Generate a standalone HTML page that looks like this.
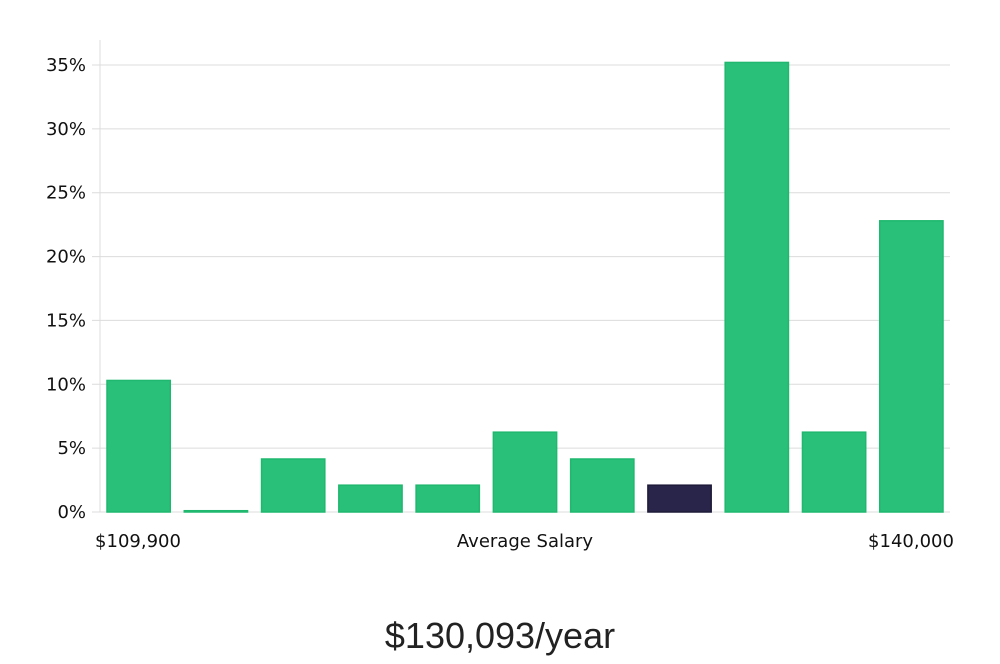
<!DOCTYPE html>
<html><head><meta charset="utf-8"><style>
body{margin:0;background:#fff;width:1000px;height:660px;overflow:hidden;font-family:"DejaVu Sans","Liberation Sans",sans-serif}
svg text{font-family:"DejaVu Sans","Liberation Sans",sans-serif}
</style></head><body>
<svg width="1000" height="660">
<g id="grid"></g>
<g id="bars"></g>
<g id="labels"></g>
<text x="500" y="648" text-anchor="middle" font-size="36" font-weight="300" fill="#222" style="font-family:'Liberation Sans',sans-serif">$130,093/year</text>
</svg>
<script>
const categories=["b1","b2","b3","b4","b5","b6","b7","b8","b9","b10","b11"];
const values=[10.3,0.1,4.15,2.1,2.1,6.25,4.15,2.1,35.2,6.25,22.8];
const highlight=[false,false,false,false,false,false,false,true,false,false,false];
const yTicks=[0,5,10,15,20,25,30,35];
const xLabels=["$109,900","Average Salary","$140,000"];
const NS="http://www.w3.org/2000/svg";
const x0=100,x1=950,yb=512,yt=65;
const y=v=>yb-(v/35)*(yb-yt);
const step=(x1-x0)/categories.length;
function mk(t,a,p){const e=document.createElementNS(NS,t);for(const k in a)e.setAttribute(k,a[k]);p.appendChild(e);return e;}
const g=document.getElementById('grid'),b=document.getElementById('bars'),l=document.getElementById('labels');
const ax=mk('line',{x1:x0,x2:x0,y1:40,y2:yb,stroke:'#ddd'},g);


yTicks.forEach(t=>{
 const ln=mk('line',{x1:x0-8,x2:x1,y1:y(t),y2:y(t),stroke:'#dcdcdc'},g);
 
 
 const tx=mk('text',{x:86,y:y(t)+6,'text-anchor':'end','font-size':18,fill:'#111'},l);
 tx.textContent=t+'%';
 
 
});
values.forEach((v,i)=>{
 const r=mk('rect',{x:x0+i*step+7,y:y(v),width:step-14,height:yb-y(v),fill:highlight[i]?'#29254a':'#29c07a',stroke:highlight[i]?'#1d1a38':'#1fb86e','stroke-width':1.5},b);
 
 
});
[[138,'middle'],[525,'middle'],[911,'middle']].forEach((p,i)=>{
 const tx=mk('text',{x:p[0],y:547,'text-anchor':p[1],'font-size':18,fill:'#111'},l);
 tx.textContent=xLabels[i];
 
 
});
</script>
</body></html>
